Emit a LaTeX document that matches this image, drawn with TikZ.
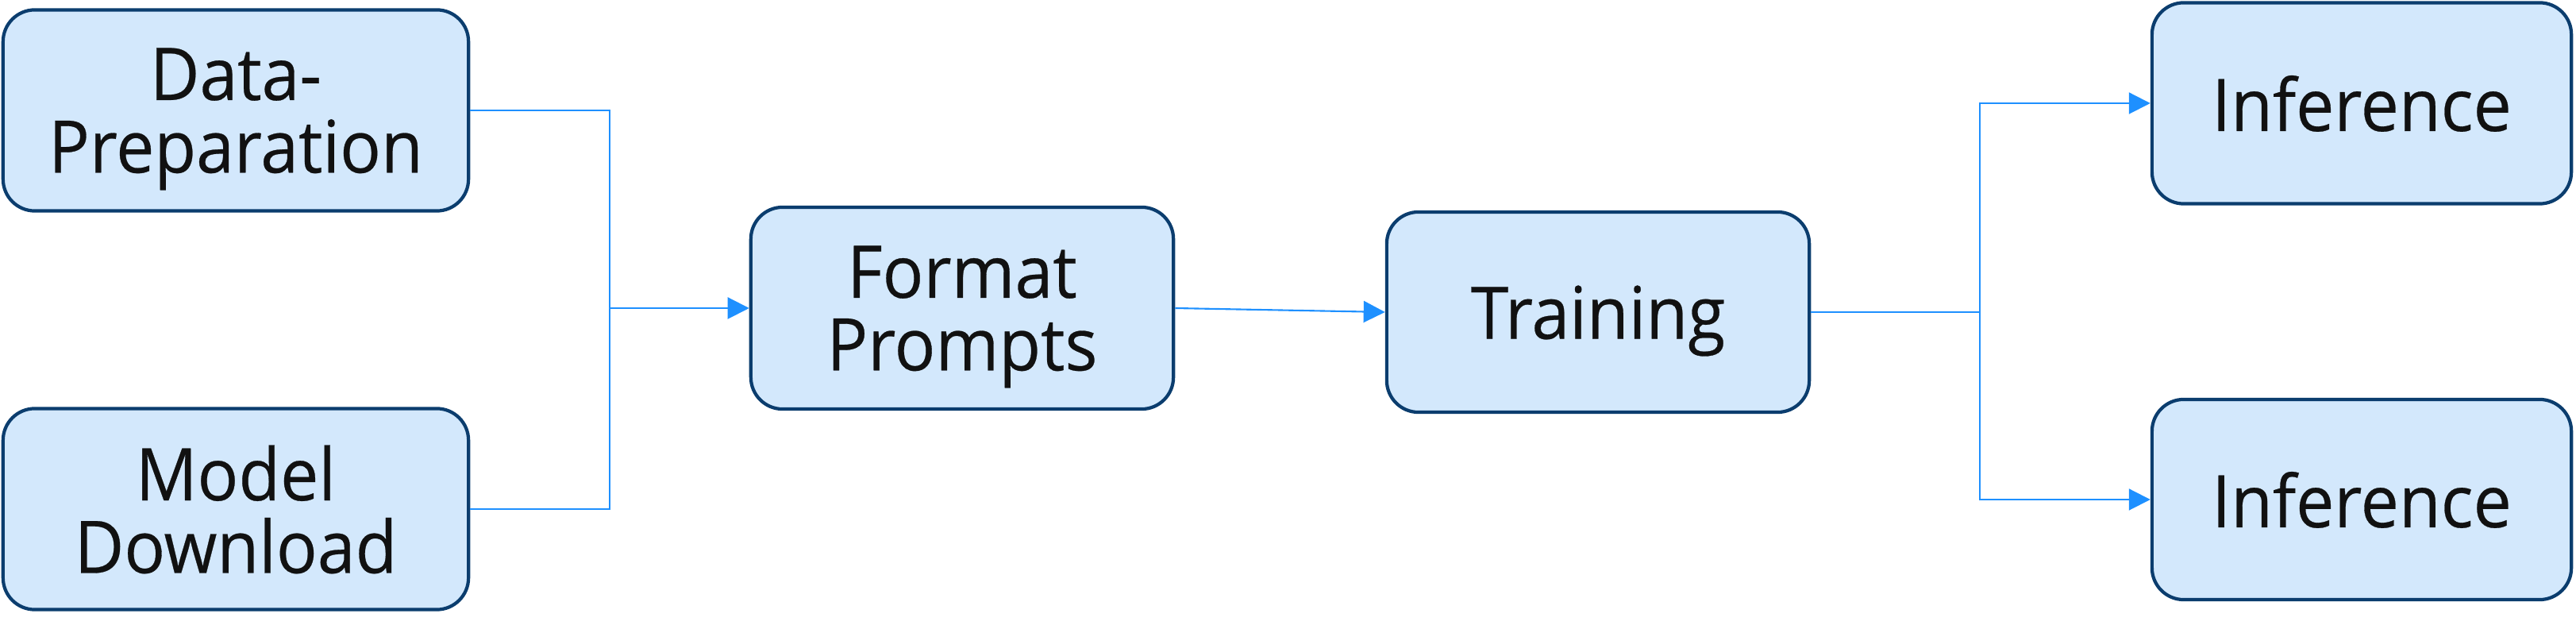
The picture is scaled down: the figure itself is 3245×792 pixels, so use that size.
\documentclass[tikz,border=0pt]{standalone}
\usepackage{fontspec}
\setmainfont[FakeStretch=0.94,FakeBold=0.3]{Open Sans}
\usetikzlibrary{arrows.meta}
\definecolor{boxfill}{HTML}{D3E8FC}
\definecolor{boxdraw}{HTML}{0B3D6E}
\definecolor{linkcol}{HTML}{1E90FF}
\definecolor{txtcol}{HTML}{111111}
\begin{document}
\begin{tikzpicture}[x=0.01cm,y=-0.01cm,
  stagebox/.style={draw=boxdraw, fill=boxfill, line width=1.2pt, rounded corners=0.4cm,
    align=center, text=txtcol, inner sep=0pt, text depth=0pt, font=\fontsize{26}{26}\selectfont},
  link/.style={draw=linkcol, line width=0.6pt},
  arrowlink/.style={link, -{Triangle[length=0.27cm,width=0.27cm]}}]
\useasboundingbox (0,0) rectangle (3245,792);
\node[stagebox, minimum width=5.86cm, minimum height=2.53cm] (dp) at (297,139) {Data-\\Preparation};
\node[stagebox, minimum width=5.86cm, minimum height=2.53cm] (md) at (297,641) {Model\\Download};
\node[stagebox, minimum width=5.32cm, minimum height=2.54cm] (fp) at (1212,388) {Format\\Prompts};
\node[stagebox, minimum width=5.32cm, minimum height=2.52cm] (tr) at (2013,393) {Training};
\node[stagebox, minimum width=5.28cm, minimum height=2.53cm] (i1) at (2975,130) {Inference};
\node[stagebox, minimum width=5.28cm, minimum height=2.52cm] (i2) at (2975,629) {Inference};
\coordinate (jl) at (768,388);
\coordinate (jr) at (2494,393);
\draw[link] (dp.east) -- (jl |- dp.east) -- (jl |- md.east) -- (md.east);
\draw[arrowlink] (jl) -- (fp.west);
\draw[arrowlink] (fp.east) -- (tr.west);
\draw[link] (tr.east) -- (jr);
\draw[arrowlink] (jr) |- (i1.west);
\draw[arrowlink] (jr) |- (i2.west);
\end{tikzpicture}
\end{document}
